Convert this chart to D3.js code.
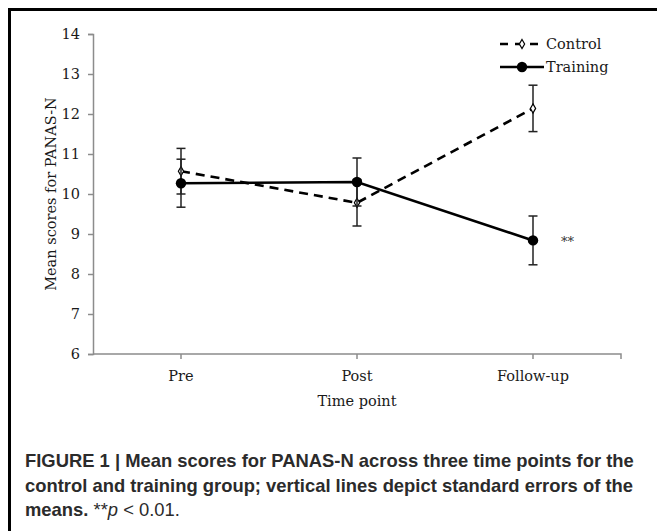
<!DOCTYPE html>
<html>
<head>
<meta charset="utf-8">
<script src="https://cdn.jsdelivr.net/npm/d3@7"></script>
<style>
    body { margin: 0; background: #fff; }
    svg { display: block; }
</style>
</head>
<body>
<div id="chart"></div>
<script>

var time_points = [ 'Pre', 'Post', 'Follow-up' ];
var control_means = [ 10.57, 9.78, 12.14 ];
var control_se = [ 0.57, 0.58, 0.58 ];
var training_means = [ 10.27, 10.30, 8.84 ];
var training_se = [ 0.60, 0.60, 0.61 ];
var y_ticks = [ 6, 7, 8, 9, 10, 11, 12, 13, 14 ];
var series_names = [ 'Control', 'Training' ];

var width = 657;
var height = 531;
var serif = '"DejaVu Serif", "Liberation Serif", serif';
var sans = '"Liberation Sans", Arial, sans-serif';
var axis_color = '#8c8c8c';
var text_color = '#1a1a1a';

var svg = d3.select( '#chart' ).append( 'svg' )
    .attr( 'width', width )
    .attr( 'height', height );

// frame (top + left only)
svg.append( 'path' )
    .attr( 'd', 'M9.5,' + height + 'V9.5H' + width )
    .attr( 'fill', 'none' )
    .attr( 'stroke', '#000' )
    .attr( 'stroke-width', 3 );

var x = d3.scaleBand()
    .domain( time_points )
    .range( [ 93, 621 ] )
    .padding( 0 );

var y = d3.scaleLinear()
    .domain( [ 6, 14 ] )
    .range( [ 354, 34 ] );

function cx ( d ) { return x( d ) + x.bandwidth() / 2; }

// y axis
var y_axis = svg.append( 'g' )
    .attr( 'transform', 'translate(' + x.range()[ 0 ] + ',0)' )
    .call( d3.axisLeft( y ).tickValues( y_ticks ).tickSize( 5 ).tickPadding( 8 ).tickFormat( d3.format( 'd' ) ) );

// x axis
var x_axis = svg.append( 'g' )
    .attr( 'transform', 'translate(0,' + y.range()[ 0 ] + ')' )
    .call( d3.axisBottom( x ).tickSize( 5 ).tickSizeOuter( 5 ).tickPadding( 12 ) );

[ y_axis, x_axis ].forEach( function ( g ) {
    g.select( '.domain' ).attr( 'stroke', axis_color ).attr( 'stroke-width', 1.5 );
    g.selectAll( '.tick line' ).attr( 'stroke', axis_color ).attr( 'stroke-width', 1.5 );
    g.selectAll( '.tick text' )
        .attr( 'fill', text_color )
        .style( 'font-family', serif )
        .style( 'font-size', '14.5px' );
});

// the left end of x axis has no outer tick in the reference
x_axis.select( '.domain' ).attr( 'd', 'M' + x.range()[ 0 ] + ',0H' + x.range()[ 1 ] + 'V5' );

// axis titles
svg.append( 'text' )
    .attr( 'transform', 'translate(52,' + ( ( y.range()[ 0 ] + y.range()[ 1 ] ) / 2 ) + ') rotate(-90)' )
    .attr( 'text-anchor', 'middle' )
    .attr( 'dominant-baseline', 'middle' )
    .style( 'font-family', serif )
    .style( 'font-size', '14.5px' )
    .attr( 'fill', text_color )
    .text( 'Mean scores for PANAS-N' );

svg.append( 'text' )
    .attr( 'x', ( x.range()[ 0 ] + x.range()[ 1 ] ) / 2 )
    .attr( 'y', 406 )
    .attr( 'text-anchor', 'middle' )
    .style( 'font-family', serif )
    .style( 'font-size', '14.5px' )
    .attr( 'fill', text_color )
    .text( 'Time point' );

var series = [
    { name: series_names[ 0 ], means: control_means, se: control_se, dash: '9,6', marker: 'diamond' },
    { name: series_names[ 1 ], means: training_means, se: training_se, dash: null, marker: 'circle' }
];

var line = d3.line()
    .x( function ( d ) { return cx( d.t ); } )
    .y( function ( d ) { return y( d.v ); } );

var diamond = d3.symbol().type( d3.symbolDiamond ).size( 24 );

series.forEach( function ( s ) {

    var pts = time_points.map( function ( t, i ) {
        return { t: t, v: s.means[ i ], e: s.se[ i ] };
    });

    var g = svg.append( 'g' );

    // error bars
    var eb = g.selectAll( '.err' ).data( pts ).enter().append( 'g' )
        .attr( 'stroke', '#222' )
        .attr( 'stroke-width', 1.5 );

    eb.append( 'line' )
        .attr( 'x1', function ( d ) { return cx( d.t ); } )
        .attr( 'x2', function ( d ) { return cx( d.t ); } )
        .attr( 'y1', function ( d ) { return y( d.v + d.e ); } )
        .attr( 'y2', function ( d ) { return y( d.v - d.e ); } );

    [ 1, -1 ].forEach( function ( sign ) {
        eb.append( 'line' )
            .attr( 'x1', function ( d ) { return cx( d.t ) - 4.5; } )
            .attr( 'x2', function ( d ) { return cx( d.t ) + 4.5; } )
            .attr( 'y1', function ( d ) { return y( d.v + sign * d.e ); } )
            .attr( 'y2', function ( d ) { return y( d.v + sign * d.e ); } );
    });

    g.append( 'path' )
        .datum( pts )
        .attr( 'd', line )
        .attr( 'fill', 'none' )
        .attr( 'stroke', '#000' )
        .attr( 'stroke-width', 2.6 )
        .attr( 'stroke-dasharray', s.dash );

    var m = g.selectAll( '.pt' ).data( pts ).enter();

    if ( s.marker === 'circle' ) {
        m.append( 'circle' )
            .attr( 'cx', function ( d ) { return cx( d.t ); } )
            .attr( 'cy', function ( d ) { return y( d.v ); } )
            .attr( 'r', 5.2 )
            .attr( 'fill', '#000' );
    } else {
        m.append( 'path' )
            .attr( 'd', diamond )
            .attr( 'transform', function ( d ) { return 'translate(' + cx( d.t ) + ',' + y( d.v ) + ')'; } )
            .attr( 'fill', '#fff' )
            .attr( 'stroke', '#000' )
            .attr( 'stroke-width', 1.2 );
    }

});

// significance mark
svg.append( 'text' )
    .attr( 'x', cx( time_points[ 2 ] ) + 28 )
    .attr( 'y', y( training_means[ 2 ] ) + 6 )
    .style( 'font-family', serif )
    .style( 'font-size', '13px' )
    .attr( 'fill', '#333' )
    .text( '**' );

// legend
var legend = svg.append( 'g' ).attr( 'transform', 'translate(500,0)' );
var legend_y = [ 44, 67 ];

series.forEach( function ( s, i ) {

    var row = legend.append( 'g' ).attr( 'transform', 'translate(0,' + legend_y[ i ] + ')' );

    row.append( 'line' )
        .attr( 'x1', 0 ).attr( 'x2', 44 )
        .attr( 'stroke', '#000' )
        .attr( 'stroke-width', 2.6 )
        .attr( 'stroke-dasharray', s.dash ? '8,7' : null );

    if ( s.marker === 'circle' ) {
        row.append( 'circle' ).attr( 'cx', 22 ).attr( 'r', 5.2 ).attr( 'fill', '#000' );
    } else {
        row.append( 'path' )
            .attr( 'd', diamond )
            .attr( 'transform', 'translate(22,0)' )
            .attr( 'fill', '#fff' )
            .attr( 'stroke', '#000' )
            .attr( 'stroke-width', 1.2 );
    }

    row.append( 'text' )
        .attr( 'x', 46 )
        .attr( 'dy', '0.35em' )
        .style( 'font-family', serif )
        .style( 'font-size', '14.5px' )
        .attr( 'fill', text_color )
        .text( s.name );

});

// caption
var caption = svg.append( 'g' )
    .style( 'font-family', sans )
    .style( 'font-size', '18.4px' )
    .attr( 'fill', '#2b2b2b' );

caption.append( 'text' ).attr( 'x', 25 ).attr( 'y', 467 )
    .style( 'font-weight', 'bold' )
    .text( 'FIGURE 1 | Mean scores for PANAS-N across three time points for the' );

caption.append( 'text' ).attr( 'x', 25 ).attr( 'y', 491.5 )
    .style( 'font-weight', 'bold' )
    .text( 'control and training group; vertical lines depict standard errors of the' );

var last = caption.append( 'text' ).attr( 'x', 25 ).attr( 'y', 516 );
last.append( 'tspan' ).style( 'font-weight', 'bold' ).text( 'means.' );
last.append( 'tspan' ).text( ' **' );
last.append( 'tspan' ).style( 'font-style', 'italic' ).text( 'p' );
last.append( 'tspan' ).text( ' < 0.01.' );

</script>
</body>
</html>
